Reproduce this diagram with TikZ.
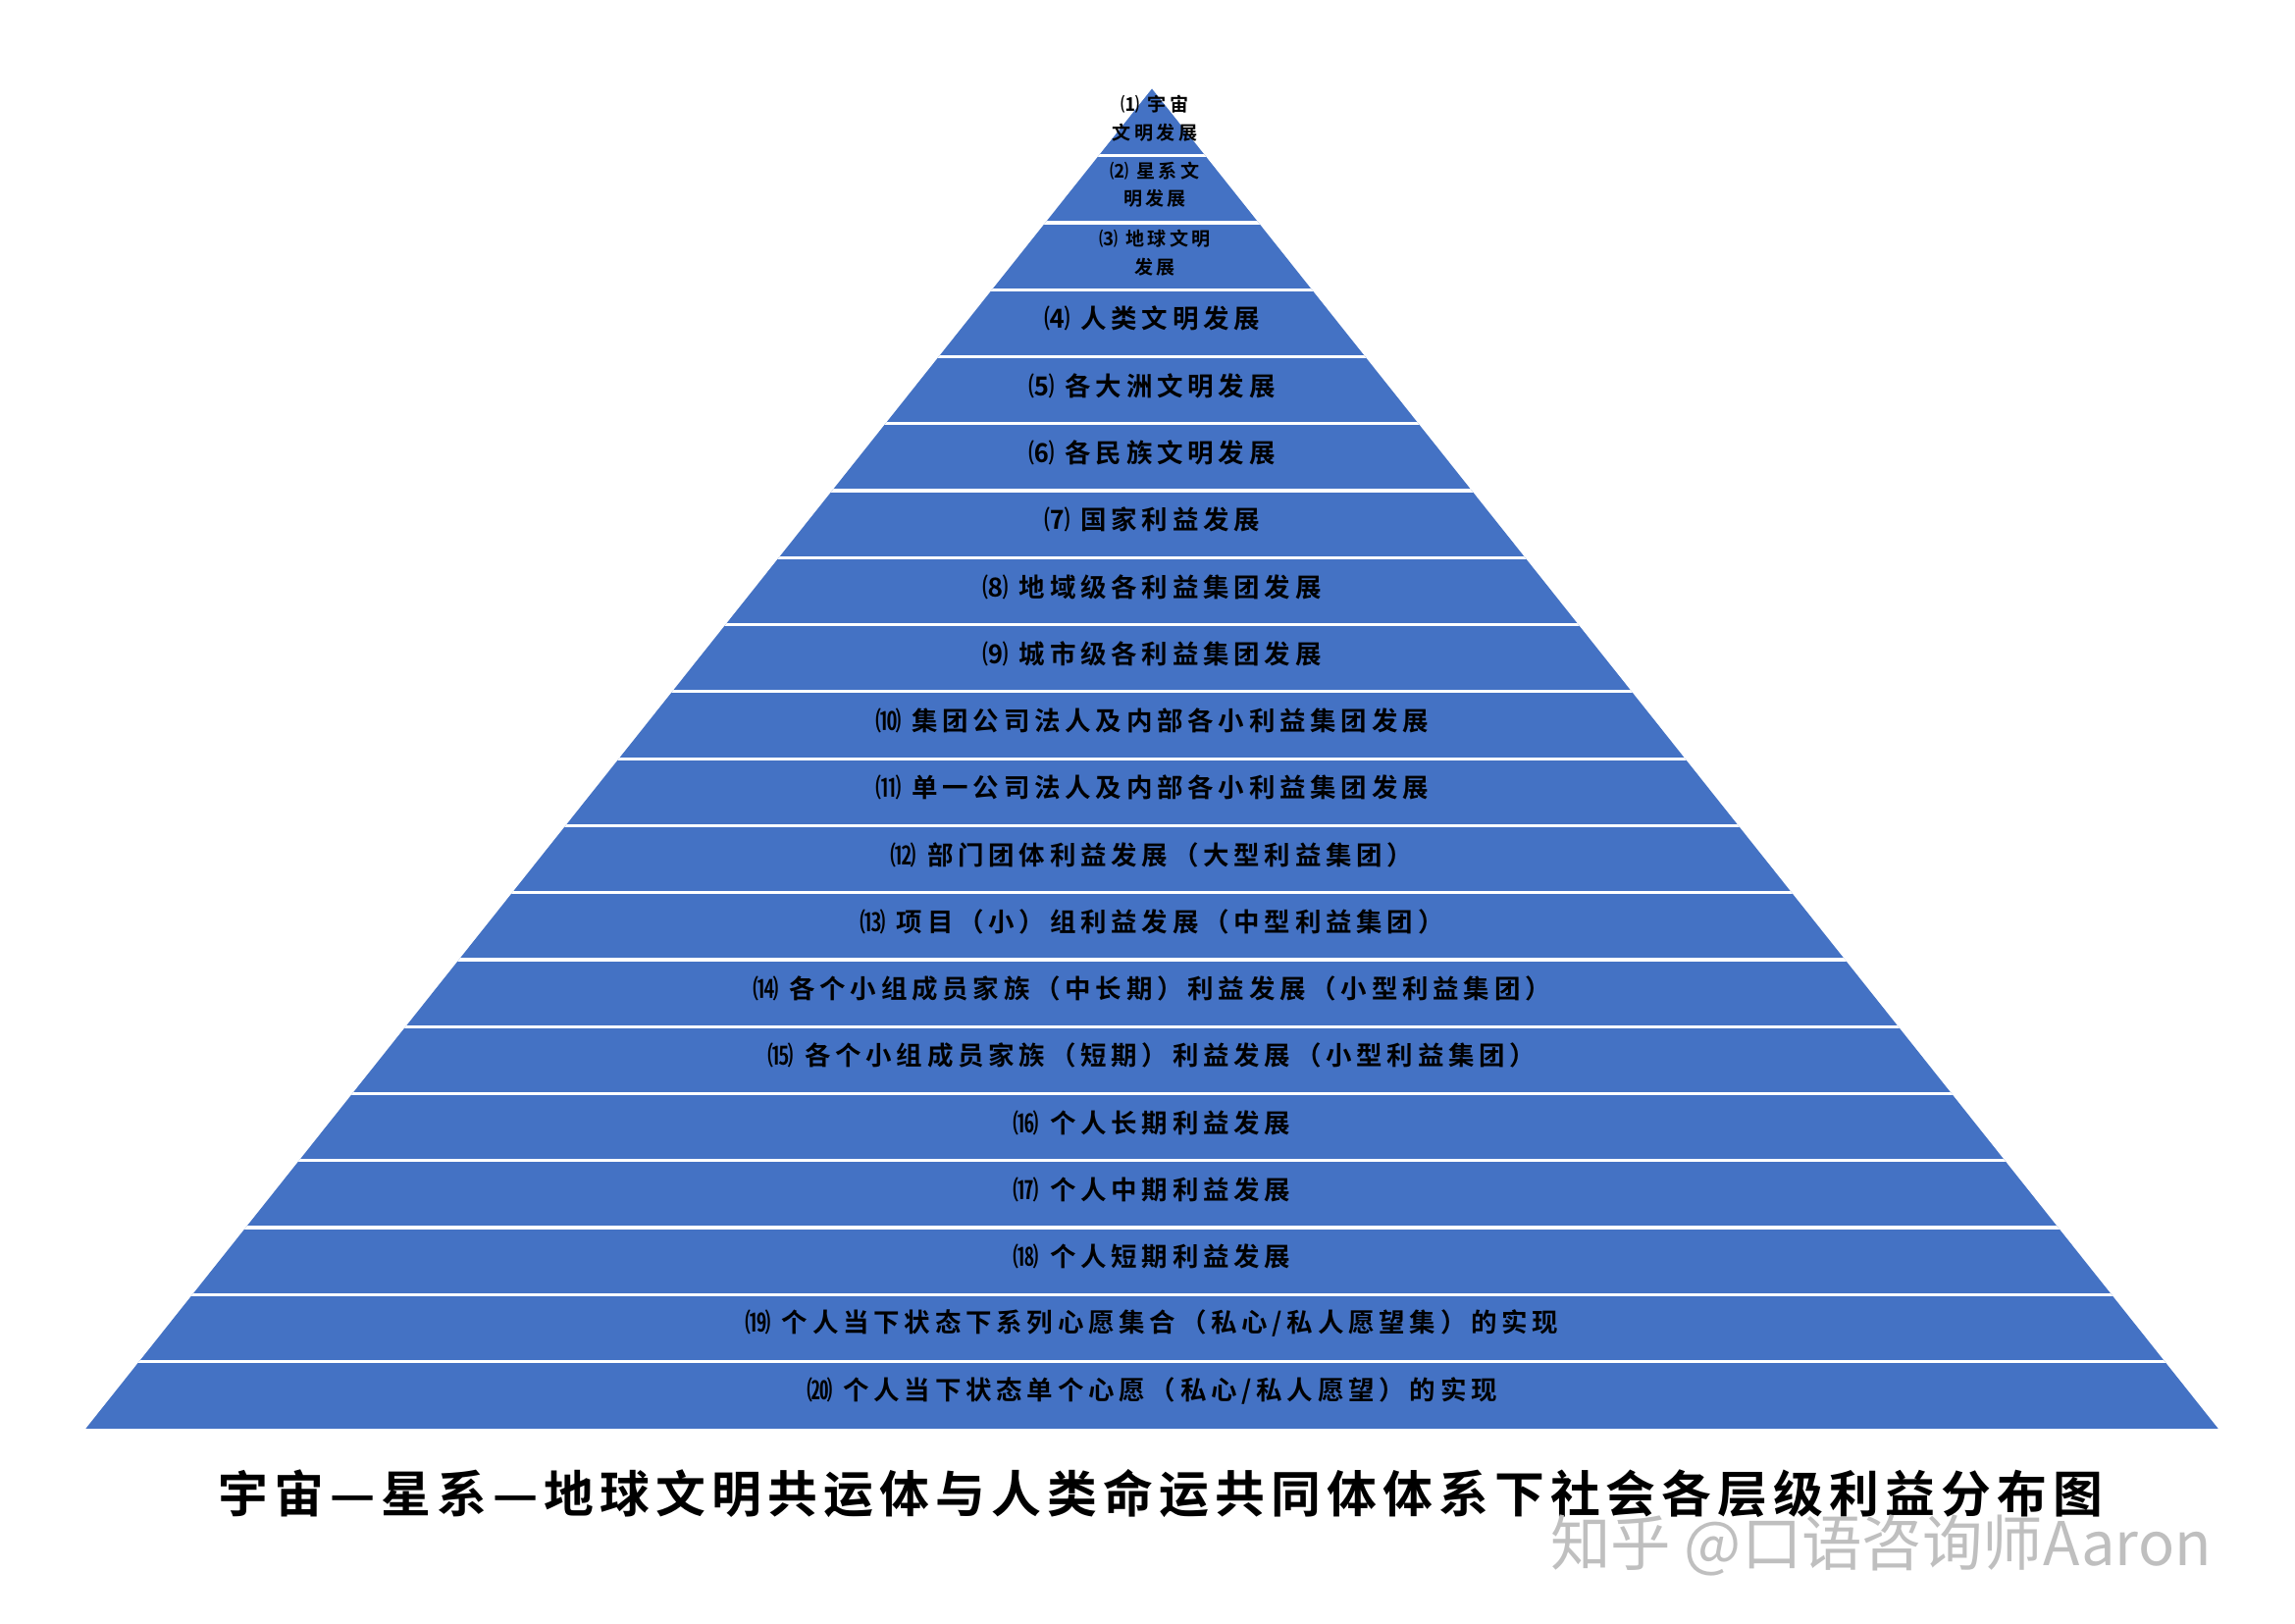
\documentclass[tikz,border=0pt]{standalone}
\usepackage{fontspec}
\setmainfont{Noto Sans CJK SC Bold}
\newfontfamily\wmfont{Noto Sans CJK SC}
\newfontfamily\bandfont[LetterSpace=18]{Noto Sans CJK SC Bold}
\newfontfamily\titlefont[LetterSpace=12]{Noto Sans CJK SC Bold}
\definecolor{band}{RGB}{68,114,196}
\begin{document}
\begin{tikzpicture}[x=0.05cm,y=-0.05cm]
\tikzset{lbl/.style={font=\bandfont\fontsize{25}{27}\selectfont, text=black, inner sep=0pt},
 sml/.style={font=\bandfont\fontsize{18}{27}\selectfont, text=black, inner sep=0pt, align=center}}
\useasboundingbox[fill=white] (0,0) rectangle (1552,1097.6);
\coordinate (apex) at (779,60);
\coordinate (bl) at (58,966);
\coordinate (br) at (1500,966);
\fill[band] (apex) -- (br) -- (bl) -- cycle;
\begin{scope}
\clip (apex) -- (br) -- (bl) -- cycle;
\foreach \i in {1,...,19}{
  \draw[white,line width=3pt] (0,{60+45.3*\i}) -- (1552,{60+45.3*\i});
}
\end{scope}
\node[sml] (t1) at (781,80) {⑴ 宇宙\\文明发展};
\node[sml] (t2) at (781,125) {⑵ 星系文\\明发展};
\node[sml] (t3) at (781,171) {⑶ 地球文明\\发展};
\foreach \i/\t in {4/{⑷ 人类文明发展},5/{⑸ 各大洲文明发展},6/{⑹ 各民族文明发展},7/{⑺ 国家利益发展},
 8/{⑻ 地域级各利益集团发展},9/{⑼ 城市级各利益集团发展},10/{⑽ 集团公司法人及内部各小利益集团发展},
 11/{⑾ 单一公司法人及内部各小利益集团发展},12/{⑿ 部门团体利益发展（大型利益集团）},
 13/{⒀ 项目（小）组利益发展（中型利益集团）},14/{⒁ 各个小组成员家族（中长期）利益发展（小型利益集团）},
 15/{⒂ 各个小组成员家族（短期）利益发展（小型利益集团）},16/{⒃ 个人长期利益发展},17/{⒄ 个人中期利益发展},
 18/{⒅ 个人短期利益发展},19/{⒆ 个人当下状态下系列心愿集合（私心/私人愿望集）的实现},
 20/{⒇ 个人当下状态单个心愿（私心/私人愿望）的实现}}{
  \node[lbl] (t\i) at (779,{60+45.3*(\i-0.5)-3}) {\t};
}
\node[font=\titlefont\fontsize{48}{52}\selectfont, inner sep=0pt] (title) at (785,1010) {宇宙—星系—地球文明共运体与人类命运共同体体系下社会各层级利益分布图};
\node[font=\wmfont\fontsize{58}{62}\selectfont, text=black!25, inner sep=0pt] (mark) at (1272,1045) {知乎 @口语咨询师Aaron};
\end{tikzpicture}
\end{document}
